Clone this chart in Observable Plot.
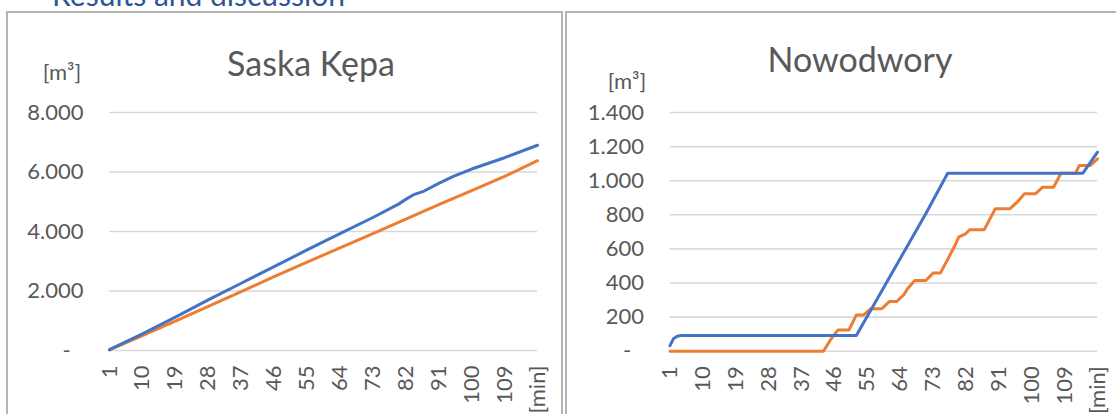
<!DOCTYPE html>
<html><head><meta charset="utf-8">
<script src="https://cdn.jsdelivr.net/npm/d3@7"></script>
<script src="https://cdn.jsdelivr.net/npm/@observablehq/plot@0.6"></script>
<style>
html,body{margin:0;padding:0;background:#fff;}
#wrap{position:relative;width:1116px;height:414px;overflow:hidden;font-family:Lato,"Open Sans",sans-serif;}
.abs{position:absolute;white-space:nowrap;}
.title{font-size:34px;line-height:1;color:#595959;transform:translateX(-50%);}
.unit{font-size:22px;line-height:1;color:#595959;transform:translateX(-50%);}
.frame{position:absolute;box-sizing:border-box;border:2px solid #b4b4b4;}
#heading{font-size:30px;line-height:1;color:#2F5597;top:-21px;right:771px;}
</style></head>
<body><div id="wrap">
<div class="abs" id="heading">Results and discussion</div>
<div class="frame" style="left:6px;top:11px;width:557px;height:500px;"></div>
<div class="frame" style="left:565px;top:11px;width:600px;height:500px;"></div>
<div id="left" class="abs" style="left:0;top:0"></div>
<div id="right" class="abs" style="left:558px;top:0"></div>
<div class="abs title" style="left:311px;top:46px;">Saska Kępa</div>
<div class="abs title" style="left:860px;top:42px;">Nowodwory</div>
<div class="abs unit" style="left:62px;top:61px;">[m³]</div>
<div class="abs unit" style="left:627px;top:70px;">[m³]</div>
</div>
<script>
// x axis categories (minutes) and tick labels
const xTicks = [1, 10, 19, 28, 37, 46, 55, 64, 73, 82, 91, 100, 109, 118];
const xTickLabels = ["1", "10", "19", "28", "37", "46", "55", "64", "73", "82", "91", "100", "109", "[min]"];

// Saska Kępa
const skTicks = [0, 2000, 4000, 6000, 8000];
const skBlueMin = [1, 10, 19, 28, 37, 46, 55, 64, 73, 80, 82, 84, 87, 91, 95, 100, 109, 118];
const skBlueVal = [30, 560, 1120, 1700, 2260, 2820, 3380, 3930, 4470, 4920, 5080, 5230, 5360, 5620, 5850, 6100, 6480, 6900];
const skOrangeMin = [1, 10, 19, 28, 37, 46, 55, 64, 73, 82, 91, 100, 109, 118];
const skOrangeVal = [20, 500, 990, 1480, 1980, 2480, 2970, 3450, 3930, 4420, 4900, 5370, 5850, 6380];

// Nowodwory
const nwTicks = [0, 200, 400, 600, 800, 1000, 1200, 1400];
const nwBlueMin = [1, 2, 3, 4, 52, 71, 77, 114, 118];
const nwBlueVal = [33, 75, 88, 92, 92, 806, 1044, 1044, 1167];
const nwOrangeMin = [1, 43, 45, 47, 50, 52, 54, 56, 59, 61, 63, 65, 66, 68, 71, 73, 75, 79, 80, 82, 83, 87, 90, 94, 96, 98, 101, 103, 106, 108, 112, 113, 116, 118];
const nwOrangeVal = [0, 0, 70, 125, 125, 213, 213, 249, 249, 291, 291, 331, 366, 415, 415, 458, 458, 620, 669, 690, 712, 712, 835, 835, 874, 923, 923, 962, 962, 1044, 1044, 1089, 1089, 1128];

const BLUE = "#4472C4", ORANGE = "#ED7D31";
const loc = d3.formatLocale({decimal: ",", thousands: ".", grouping: [3], currency: ["", ""]});
const fmt = loc.format(",");
const yFmt = d => d === 0 ? "-\u2007" : fmt(d);
const xFmt = d => xTickLabels[xTicks.indexOf(d)];
const zip = (ms, vs) => ms.map((m, i) => ({m, v: vs[i]}));

function chart(opts) {
  return Plot.plot({
    width: 558, height: 414,
    marginLeft: opts.ml, marginRight: opts.mr, marginTop: opts.mt, marginBottom: opts.mb,
    style: {fontFamily: "Lato, 'Open Sans', sans-serif", fontSize: "22px", color: "#595959", background: "transparent", overflow: "visible"},
    x: {domain: [1, 118]},
    y: {domain: opts.domain},
    marks: [
      Plot.gridY({ticks: opts.ticks, stroke: "#d9d9d9", strokeOpacity: 1, strokeWidth: 1.6}),
      Plot.axisY({ticks: opts.ticks, tickFormat: yFmt, tickSize: 0, tickPadding: 26, label: null, fontSize: 22}),
      Plot.axisX({ticks: xTicks, tickFormat: xFmt, tickRotate: -90, tickSize: 0, tickPadding: 15, label: null, fontSize: 22}),
      Plot.line(opts.orange, {x: "m", y: "v", stroke: ORANGE, strokeWidth: 3}),
      Plot.line(opts.blue, {x: "m", y: "v", stroke: BLUE, strokeWidth: 3})
    ]
  });
}

document.getElementById("left").appendChild(chart({
  ml: 109, mr: 21, mt: 112, mb: 64, domain: [0, 8000], ticks: skTicks,
  blue: zip(skBlueMin, skBlueVal), orange: zip(skOrangeMin, skOrangeVal)
}));
document.getElementById("right").appendChild(chart({
  ml: 111.5, mr: 19, mt: 112, mb: 63.3, domain: [0, 1400], ticks: nwTicks,
  blue: zip(nwBlueMin, nwBlueVal), orange: zip(nwOrangeMin, nwOrangeVal)
}));
</script>
</body></html>
